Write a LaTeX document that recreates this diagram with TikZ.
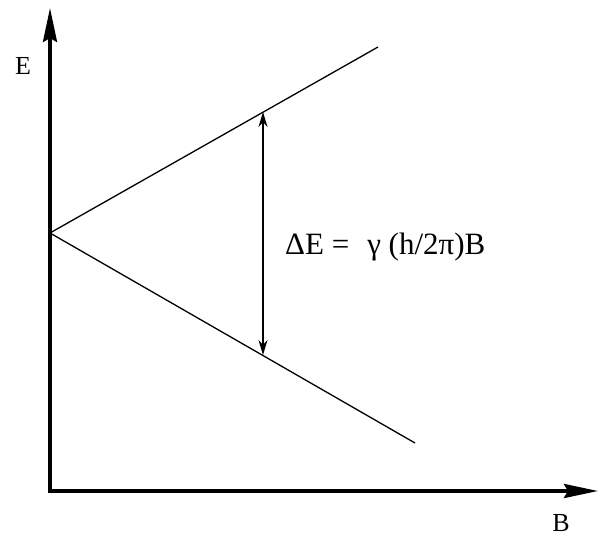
\documentclass[tikz,border=0pt]{standalone}
\usepackage{fontspec}
\setmainfont{Liberation Serif}
\usetikzlibrary{arrows.meta}
\begin{document}
\begin{tikzpicture}[x=1pt,y=-1pt,
  axis/.style={line width=3.5pt,-{Stealth[length=34pt,width=14pt,inset=4pt]}},
  level/.style={line width=1.3pt},
  gap/.style={line width=1.6pt,{Stealth[length=15pt,width=9pt]}-{Stealth[length=15pt,width=9pt]}},
  lbl/.style={inner sep=0pt,font=\fontsize{26}{30}\selectfont}]
\useasboundingbox (0,0) rectangle (599,538);
\fill[white] (0,0) rectangle (599,538);
\coordinate (O) at (50,491);
\coordinate (ytip) at (50,8);
\coordinate (xtip) at (598,491);
\coordinate (V) at (50,233);
\coordinate (U) at (378,47);
\coordinate (L) at (415,443);
\coordinate (gt) at (263,112);
\coordinate (gb) at (263,355);
\draw[axis] (O) -- (ytip);
\draw[axis] ([xshift=-1.75pt]O) -- (xtip);
\draw[level] (V) -- (U);
\draw[level] (V) -- (L);
\draw[gap] (gb) -- (gt);
\node[lbl] (Elab) at (23,66) {E};
\node[lbl] (Blab) at (561,523) {B};
\node[lbl,anchor=west,font=\fontsize{31}{36}\selectfont] (formula) at (285,247) {ΔE =\hspace{18pt}γ (h/2π)B};
\end{tikzpicture}
\end{document}
